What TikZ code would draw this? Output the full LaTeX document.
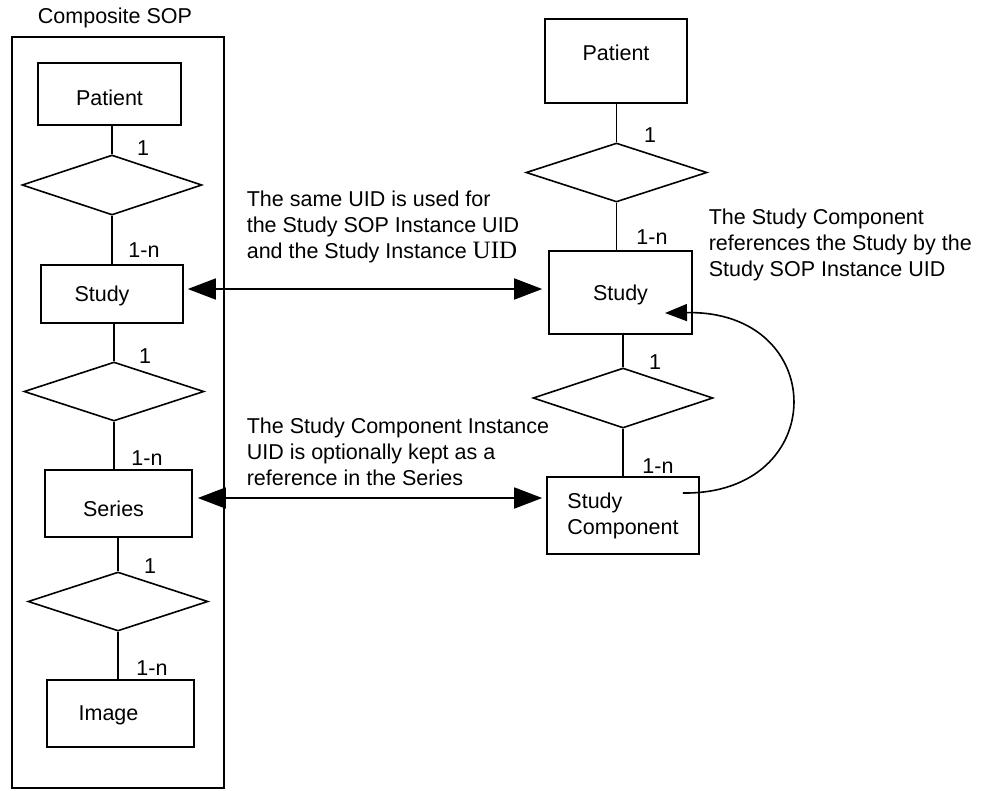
\documentclass[tikz,border=0pt]{standalone}
\usepackage{fontspec}
\setmainfont{Liberation Sans}
\newfontfamily\uidserif{Liberation Serif}
\usetikzlibrary{shapes.geometric,arrows.meta}
\newcommand\myfs{\fontsize{21.5}{26}\selectfont}
\begin{document}
\begin{tikzpicture}[x=1pt,y=-1pt,line width=1.6pt,
  box/.style={draw,rectangle,inner sep=0pt,font=\myfs},
  rel/.style={draw,diamond,inner sep=0pt,minimum width=180pt,minimum height=60pt},
  card/.style={inner sep=0pt,font=\myfs},
  note/.style={inner sep=0pt,align=left,font=\myfs},
  dbl/.style={{Triangle[length=28pt,width=21pt]}-{Triangle[length=28pt,width=21pt]}},
  curv/.style={-{Triangle[length=22pt,width=17pt]}}]
\useasboundingbox (0,0) rectangle (992,790);

% left column
\node[card] (title) at (115,18) {Composite SOP};
\node[draw,rectangle,inner sep=0pt,minimum width=212pt,minimum height=751pt] (outer) at (118,412.5) {};
\node[box,minimum width=143pt,minimum height=62pt,text height=24pt] (lpat) at (109.5,94) {Patient};
\node[rel] (ld1) at (112,185) {};
\node[box,minimum width=142pt,minimum height=58pt,text depth=0pt] (lstudy) at (112,294) {Study\kern20pt};
\node[rel,minimum height=59pt] (ld2) at (114,391.5) {};
\node[box,minimum width=147pt,minimum height=67pt,text height=27pt] (lseries) at (118.5,503.5) {Series\kern10pt};
\node[rel,minimum height=59pt] (ld3) at (118,601.5) {};
\node[box,minimum width=147pt,minimum height=67pt,text depth=0pt] (limage) at (120.5,713.5) {Image\kern24pt};

\draw (lpat.south -| ld1.north) -- (ld1.north);
\draw (ld1.south) -- (ld1.south |- lstudy.north);
\draw (lstudy.south -| ld2.north) -- (ld2.north);
\draw (ld2.south) -- (ld2.south |- lseries.north);
\draw (lseries.south -| ld3.north) -- (ld3.north);
\draw (ld3.south) -- (ld3.south |- limage.north);

\node[card] (c1) at (143,148) {1};
\node[card] (c2) at (144,250) {1-n};
\node[card] (c3) at (145,356) {1};
\node[card] (c4) at (147,458) {1-n};
\node[card] (c5) at (150,566) {1};
\node[card] (c6) at (152,668) {1-n};

% right column
\node[box,minimum width=142pt,minimum height=84pt,text depth=16pt] (rpat) at (616,61) {Patient};
\node[rel,minimum width=181pt,minimum height=59pt] (rd1) at (616.5,172.5) {};
\node[box,minimum width=143pt,minimum height=83pt,text depth=0pt] (rstudy) at (620.5,292.5) {Study};
\node[rel] (rd2) at (623,398) {};
\node[box,minimum width=152pt,minimum height=77pt,align=left] (rsc) at (623,515.5) {Study\\Component};

\draw (rpat.south -| rd1.north) -- (rd1.north);
\draw (rd1.south) -- (rd1.south |- rstudy.north);
\draw (rstudy.south -| rd2.north) -- (rd2.north);
\draw (rd2.south) -- (rd2.south |- rsc.north);

\node[card] (c7) at (650,135) {1};
\node[card] (c8) at (652,237) {1-n};
\node[card] (c9) at (655,362) {1};
\node[card] (c10) at (658,466) {1-n};

% notes
\node[note,anchor=west] (n1) at (246,227) {The same UID is used for\\the Study SOP Instance UID\\and the Study Instance {\uidserif\fontsize{25}{26}\selectfont UID}};
\node[note,anchor=west] (n2) at (708,245) {The Study Component\\references the Study by the\\Study SOP Instance UID};
\node[note,anchor=west] (n3) at (246,452) {The Study Component Instance\\UID is optionally kept as a\\reference in the Series};

% arrows
\draw[dbl] ([xshift=4pt,yshift=5pt]lstudy.east) -- ([xshift=-6pt,yshift=5pt]lstudy.east -| rstudy.west);
\draw[dbl] ([xshift=5pt,yshift=5.5pt]lseries.east) -- ([xshift=-4pt,yshift=5.5pt]lseries.east -| rsc.west);
\coordinate (cs) at ([xshift=-17pt,yshift=22.5pt]rsc.east);
\coordinate (ce) at ([xshift=44.5pt,yshift=-20.5pt]rstudy.center);
\draw[curv] (cs) .. controls +(148,2) and +(165,-3) .. (ce);
\end{tikzpicture}
\end{document}
